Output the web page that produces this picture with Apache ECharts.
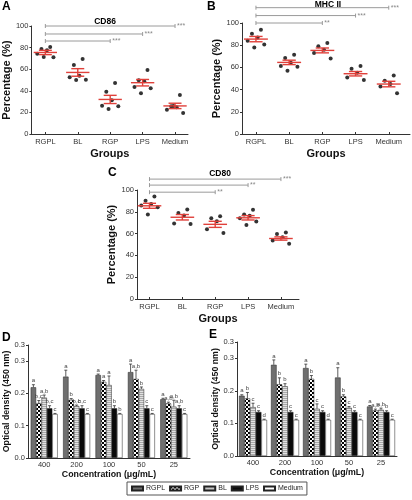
<!DOCTYPE html>
<html><head><meta charset="utf-8">
<script src="https://cdn.jsdelivr.net/npm/echarts@6/dist/echarts.min.js"></script>
<style>html,body{margin:0;padding:0;background:#fff}#c{width:412px;height:500px}</style>
</head><body><div id="c"></div>
<script>
// ---------- DATA ----------
const groups = ['RGPL','BL','RGP','LPS','Medium'];
// Panel A: CD86
const cd86Points = [[80.5,78.7,77.5,74.4,71,71.3],[69.4,63.9,54,52.5,50.3,50],[47.2,39.2,31.2,26.2,25.6,23.1],[59.3,49.7,48.8,43.5,42.3,37.7],[36.1,25.6,24.7,22.5,19.4,26]];
const cd86Mean = [75.5,57,32,47.5,26];
const cd86Sem = [2,3.5,3.8,3,2.5];
const cd86SigLevel = [100,92.6,86.1];
const cd86SigTo = [4,3,2];
const cd86SigStars = ['***','***','***'];
// Panel B: MHC II
const mhcPoints = [[94,90.4,86.9,83.9,80.6,77.9],[71.3,68.4,64.2,61.2,60.6,57],[82,79,76,73,68],[61.2,58.8,55.2,51,48.6],[52.8,48,45,42.7,36.7]];
const mhcMean = [85.5,64.5,75.3,54.3,45];
const mhcSem = [2.4,2,2.2,2,2.5];
const mhcSigLevel = [113.8,106.7,100];
const mhcSigTo = [4,3,2];
const mhcSigStars = ['***','***','**'];
// Panel C: CD80
const cd80Points = [[94,90.1,87.2,85.7,84.2,77.6],[82,79,76.7,69.3,68.7],[76,74,71.3,64,60.6],[81.8,77.6,76.4,74,71,68],[61,59.7,56.7,53.7,50.7]];
const cd80Mean = [85.5,75,68.5,74.5,55.5];
const cd80Sem = [2.3,2.5,2.8,2,1.5];
const cd80SigLevel = [110,104.5,98];
const cd80SigTo = [4,3,2];
const cd80SigStars = ['***','**','**'];

// Panels D, E
const concs = ['400','200','100','50','25'];
const barNames = ['RGPL','RGP','BL','LPS','Medium'];
const dRGPL = [0.219,0.252,0.257,0.266,0.182];
const dRGP = [0.170,0.180,0.236,0.245,0.169];
const dBL = [0.187,0.161,0.226,0.214,0.159];
const dLPS = [0.154,0.154,0.154,0.154,0.154];
const dMedium = [0.136,0.136,0.136,0.136,0.136];
const dErrRGPL = [0.008,0.02,0.003,0.025,0.003];
const dErrRGP = [0.008,0.004,0.004,0.027,0.004];
const dErrBL = [0.008,0.003,0.028,0.006,0.02];
const dErrLPS = [0.008,0.008,0.008,0.008,0.008];
const dErrMedium = [0.002,0.002,0.002,0.002,0.002];
const dLetRGPL = ['a','a','a','a','a'];
const dLetRGP = ['b,c','b','a','a,b','a,b'];
const dLetBL = ['a,b','b,c','a','b','a,b'];
const dLetLPS = ['b,c','b,c','b','c','a,b'];
const dLetMedium = ['c','c','b','c','c'];

const eRGPL = [0.185,0.280,0.270,0.241,0.152];
const eRGP = [0.177,0.220,0.237,0.183,0.140];
const eBL = [0.150,0.214,0.145,0.148,0.142];
const eLPS = [0.135,0.135,0.135,0.135,0.135];
const eMedium = [0.111,0.111,0.111,0.111,0.111];
const eErrRGPL = [0.003,0.015,0.012,0.03,0.003];
const eErrRGP = [0.018,0.02,0.01,0.005,0.004];
const eErrBL = [0.012,0.008,0.015,0.004,0.005];
const eErrLPS = [0.004,0.004,0.004,0.004,0.004];
const eErrMedium = [0.002,0.002,0.002,0.002,0.002];
const eLetRGPL = ['a','a','a','a','a'];
const eLetRGP = ['b','b','b','b','a,b'];
const eLetBL = ['c','b','c','c','a,b'];
const eLetLPS = ['c','c','c','c','b'];
const eLetMedium = ['d','c','d','c','c'];

// ---------- STYLE HELPERS ----------
const FONT = 'Liberation Sans, Arial, sans-serif';
const RED = '#e0403a';
function pat(draw, w, h){ const c=document.createElement('canvas'); c.width=w; c.height=h; const g=c.getContext('2d'); draw(g); return {image:c, repeat:'repeat'}; }
const fillRGPL = '#6f6f6f';
const fillRGP = pat(g=>{g.fillStyle='#fff';g.fillRect(0,0,4,4);g.fillStyle='#000';g.fillRect(0,0,2,2);g.fillRect(2,2,2,2);},4,4);
const fillBL = pat(g=>{g.fillStyle='#e2e2e2';g.fillRect(0,0,4,2);g.fillStyle='#a9a9a9';g.fillRect(0,0,4,1);},4,2);
const fillLPS = '#0a0a0a';
const fillMed = '#ffffff';
const barFills = [fillRGPL, fillRGP, fillBL, fillLPS, fillMed];

const jitter = [0.15,-0.12,0.05,-0.25,0.25,-0.05];

const grids = [
  {left:31, top:26, width:157, height:108},   // A
  {left:242, top:23, width:168, height:111},  // B
  {left:137, top:190, width:162, height:109}, // C
  {left:28, top:345, width:162, height:113},  // D
  {left:237, top:342, width:160, height:114}  // E
];
const scatterX = [[-0.43,4.4],[-0.42,4.64],[-0.38,4.55]];
const yNameGap = [15,18,18];

const xAxes = [], yAxes = [], series = [];
const axisLineStyle = {color:'#333', width:1};
const tickLabel = {fontFamily:FONT, fontSize:7.5, color:'#333'};
const nameStyle = {fontFamily:FONT, fontSize:11, fontWeight:'bold', color:'#111'};
const nameStyleSmall = {fontFamily:FONT, fontSize:8.8, fontWeight:'bold', color:'#111'};

const scatterPanels = [
  {pts:cd86Points, mean:cd86Mean, sem:cd86Sem, lv:cd86SigLevel, to:cd86SigTo, st:cd86SigStars},
  {pts:mhcPoints, mean:mhcMean, sem:mhcSem, lv:mhcSigLevel, to:mhcSigTo, st:mhcSigStars},
  {pts:cd80Points, mean:cd80Mean, sem:cd80Sem, lv:cd80SigLevel, to:cd80SigTo, st:cd80SigStars}
];
scatterPanels.forEach((P, k) => {
  xAxes.push({gridIndex:k, type:'value', min:scatterX[k][0], max:scatterX[k][1],
    name:'Groups', nameLocation:'middle', nameGap:14, nameTextStyle:nameStyle,
    axisLine:{show:true, onZero:false, lineStyle:axisLineStyle},
    axisTick:{show:true, inside:true, length:2, customValues:[0,1,2,3,4], lineStyle:axisLineStyle},
    axisLabel:Object.assign({customValues:[0,1,2,3,4], formatter:v=>groups[Math.round(v)], margin:4}, tickLabel),
    splitLine:{show:false}});
  yAxes.push({gridIndex:k, type:'value', min:0, max:100, interval:20,
    name:'Percentage (%)', nameLocation:'middle', nameGap:yNameGap[k], nameRotate:90, nameTextStyle:nameStyle,
    axisLine:{show:true, onZero:false, lineStyle:axisLineStyle},
    axisTick:{show:true, length:2, lineStyle:axisLineStyle},
    axisLabel:Object.assign({margin:3}, tickLabel), splitLine:{show:false}});
  const data = [];
  P.pts.forEach((arr,i)=>arr.forEach((v,j)=>data.push([i+jitter[j%jitter.length], v])));
  series.push({type:'scatter', xAxisIndex:k, yAxisIndex:k, data, symbolSize:4, itemStyle:{color:'#000'}, z:2});
  series.push({type:'custom', xAxisIndex:k, yAxisIndex:k, z:3,
    data:P.mean.map((m,i)=>[i,m,P.sem[i]]),
    renderItem:(params, api)=>{
      const i=api.value(0), m=api.value(1), s=api.value(2);
      const u=api.size([1,0])[0];
      const c=api.coord([i,m]), hi=api.coord([i,m+s]), lo=api.coord([i,m-s]);
      const st={stroke:RED, lineWidth:1.4};
      return {type:'group', children:[
        {type:'line', shape:{x1:c[0]-0.36*u, y1:c[1], x2:c[0]+0.36*u, y2:c[1]}, style:st},
        {type:'line', shape:{x1:c[0], y1:hi[1], x2:c[0], y2:lo[1]}, style:st},
        {type:'line', shape:{x1:c[0]-0.2*u, y1:hi[1], x2:c[0]+0.2*u, y2:hi[1]}, style:st},
        {type:'line', shape:{x1:c[0]-0.2*u, y1:lo[1], x2:c[0]+0.2*u, y2:lo[1]}, style:st}
      ]};
    }});
  series.push({type:'custom', xAxisIndex:k, yAxisIndex:k, z:1, clip:false,
    data:P.lv.map((l,i)=>[0,l,P.to[i],i]),
    renderItem:(params, api)=>{
      const l=api.value(1), to=api.value(2), idx=api.value(3);
      const a=api.coord([0,l]), b=api.coord([to,l]);
      const st={stroke:'#9a9a9a', lineWidth:1};
      return {type:'group', children:[
        {type:'line', shape:{x1:a[0], y1:a[1], x2:b[0], y2:b[1]}, style:st},
        {type:'line', shape:{x1:a[0], y1:a[1]-2, x2:a[0], y2:a[1]+2}, style:st},
        {type:'line', shape:{x1:b[0], y1:b[1]-2, x2:b[0], y2:b[1]+2}, style:st},
        {type:'text', x:b[0]+2, y:b[1], style:{text:P.st[idx], fill:'#888', font:'7px '+FONT, verticalAlign:'middle', align:'left'}}
      ]};
    }});
});

const barPanels = [
  {vals:[dRGPL,dRGP,dBL,dLPS,dMedium], err:[dErrRGPL,dErrRGP,dErrBL,dErrLPS,dErrMedium], let:[dLetRGPL,dLetRGP,dLetBL,dLetLPS,dLetMedium], bw:5.4},
  {vals:[eRGPL,eRGP,eBL,eLPS,eMedium], err:[eErrRGPL,eErrRGP,eErrBL,eErrLPS,eErrMedium], let:[eLetRGPL,eLetRGP,eLetBL,eLetLPS,eLetMedium], bw:5.6}
];
barPanels.forEach((P, q) => {
  const k = 3+q;
  xAxes.push({gridIndex:k, type:'category', data:concs,
    name:'Concentration (μg/mL)', nameLocation:'middle', nameGap:11, nameTextStyle:nameStyleSmall,
    axisLine:{show:true, lineStyle:axisLineStyle}, axisTick:{show:false},
    axisLabel:Object.assign({margin:3}, tickLabel)});
  yAxes.push({gridIndex:k, type:'value', min:0, max:0.35, interval:0.1,
    name:'Optical density (450 nm)', nameLocation:'middle', nameGap:15, nameRotate:90, nameTextStyle:nameStyleSmall,
    axisLine:{show:true, onZero:false, lineStyle:axisLineStyle},
    axisTick:{show:true, length:2, lineStyle:axisLineStyle},
    axisLabel:Object.assign({margin:3, formatter:v=>v.toFixed(1)}, tickLabel), splitLine:{show:false}});
  P.vals.forEach((arr, j) => {
    series.push({type:'bar', name:barNames[j], xAxisIndex:k, yAxisIndex:k, data:arr, barWidth:P.bw, barGap:'0%',
      itemStyle:{color:barFills[j], borderColor:'#222', borderWidth:0.5}});
  });
  series.push({type:'custom', xAxisIndex:k, yAxisIndex:k, z:5, clip:false,
    data:concs.map((c,i)=>[i,0]),
    renderItem:(params, api)=>{
      const i=api.value(0);
      const cx=api.coord([i,0])[0];
      const ch=[];
      for(let j=0;j<5;j++){
        const x=cx+(j-2)*P.bw;
        const top=api.coord([i,P.vals[j][i]])[1];
        const et=api.coord([i,P.vals[j][i]+P.err[j][i]])[1];
        const st={stroke:'#333', lineWidth:0.8};
        ch.push({type:'line', shape:{x1:x, y1:top, x2:x, y2:et}, style:st});
        ch.push({type:'line', shape:{x1:x-1.5, y1:et, x2:x+1.5, y2:et}, style:st});
        ch.push({type:'text', x:x, y:et-1, style:{text:P.let[j][i], fill:'#444', font:'6px '+FONT, align:'center', verticalAlign:'bottom'}});
      }
      return {type:'group', children:ch};
    }});
});

const T = (t, x, y, size, align) => ({type:'text', x, y, style:{text:t, font:'bold '+size+'px '+FONT, fill:'#000', align:align||'left', verticalAlign:'top'}});

const chart = echarts.init(document.getElementById('c'), null, {renderer:'canvas'});
chart.setOption({
  animation:false,
  grid:grids,
  xAxis:xAxes, yAxis:yAxes, series,
  legend:{data:barNames, left:127, top:482, itemWidth:11, itemHeight:4, itemGap:4,
    borderColor:'#555', borderWidth:1, padding:[3,4], icon:'rect',
    textStyle:{fontFamily:FONT, fontSize:7, color:'#222', padding:[0,0,0,-2]}},
  graphic:[
    T('A',2,1,12), T('CD86',105,17,8.5,'center'),
    T('B',207,1,12), T('MHC II',328,0,8.5,'center'),
    T('C',108,167,12), T('CD80',220,169,8.5,'center'),
    T('D',2,332,12), T('E',209,329,12)
  ]
});
</script></body></html>
